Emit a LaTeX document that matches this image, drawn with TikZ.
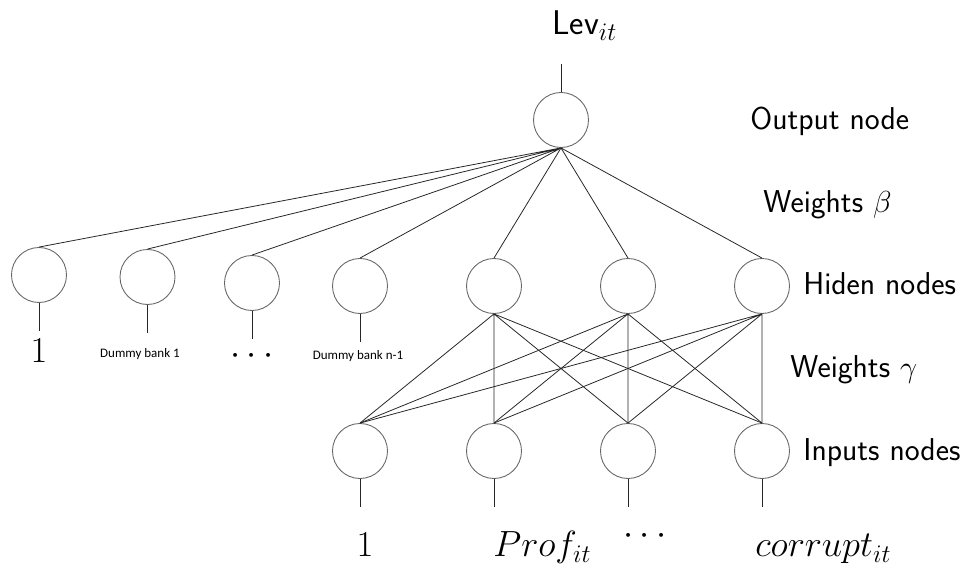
\documentclass[tikz,border=0pt]{standalone}
\usepackage{fontspec}
\newfontfamily\dummyfont{Carlito}

\begin{document}
\begin{tikzpicture}[
      x=0.02cm, y=-0.02cm,
      Neuron/.style={circle, draw=black!60, line width=0.5pt, inner sep=0pt, minimum size=1.1cm},
      Wire/.style={draw=black!85, line width=0.45pt},
      Label/.style={font=\sffamily\fontsize{18}{21}\selectfont, inner sep=0pt},
      Var/.style={font=\huge, inner sep=0pt},
      Dummy/.style={font=\dummyfont\fontsize{7.4}{9}\selectfont, inner sep=0pt},
      ]
      \useasboundingbox (0,0) rectangle (971,567);

      \node[Neuron] (O) at (561,120) {};

      \node[Neuron] (D1) at (39,275) {};
      \node[Neuron] (D2) at (147.5,277) {};
      \node[Neuron] (D3) at (252,283) {};
      \node[Neuron] (D4) at (360,286) {};
      \node[Neuron] (H1) at (494,286) {};
      \node[Neuron] (H2) at (628,286) {};
      \node[Neuron] (H3) at (762,286) {};

      \node[Neuron] (I1) at (360,451) {};
      \node[Neuron] (I2) at (494,451) {};
      \node[Neuron] (I3) at (628,451) {};
      \node[Neuron] (I4) at (762,451) {};

      \node[Label, font=\sffamily\fontsize{19.5}{23}\selectfont, anchor=base west] (lev) at (552,35) {Lev$_{it}$};
      \node[Label, anchor=base west] (outL) at (750,130) {Output node};
      \node[Label, anchor=base west] (wbeta) at (763,213) {Weights $\beta$};
      \node[Label, anchor=base west] (hidL) at (803,295) {Hiden nodes};
      \node[Label, anchor=base west] (wgamma) at (790,378) {Weights $\gamma$};
      \node[Label, anchor=base west] (inL) at (803,461) {Inputs nodes};

      \node[Var, anchor=base] (d1) at (39,363) {$1$};
      \node[Dummy, anchor=base] (d2) at (140,358) {Dummy bank 1};
      \node[Var, anchor=base] (d3) at (252,365) {$\cdots$};
      \node[Dummy, anchor=base] (d4) at (358,360) {Dummy bank n-1};

      \node[Var, anchor=base] (x1) at (365,557) {$1$};
      \node[Var, anchor=base west] (x2) at (493,557) {$Prof_{it}$};
      \node[Var, anchor=base] (x3) at (645,545) {$\cdots$};
      \node[Var, anchor=base west] (x4) at (755,557) {$corrupt_{it}$};

      \draw[Wire] (O.north) -- ++(0,-28);

      \draw[Wire] (O.south) -- (D1.north) (O.south) -- (D2.north)
                  (O.south) -- (D3.north) (O.south) -- (D4.north);
      \draw[Wire] (O.south) -- (H1.north) (O.south) -- (H2.north)
                  (O.south) -- (H3.north);

      \draw[Wire] (D1.south) -- ++(0,28) (D2.south) -- ++(0,28)
                  (D3.south) -- ++(0,28) (D4.south) -- ++(0,28);

      \draw[Wire] (H1.south) -- (I1.north) (H1.south) -- (I2.north)
                  (H1.south) -- (I3.north) (H1.south) -- (I4.north);
      \draw[Wire] (H2.south) -- (I1.north) (H2.south) -- (I2.north)
                  (H2.south) -- (I3.north) (H2.south) -- (I4.north);
      \draw[Wire] (H3.south) -- (I1.north) (H3.south) -- (I2.north)
                  (H3.south) -- (I3.north) (H3.south) -- (I4.north);

      \draw[Wire] (I1.south) -- ++(0,28) (I2.south) -- ++(0,28)
                  (I3.south) -- ++(0,28) (I4.south) -- ++(0,28);
    \end{tikzpicture}
\end{document}
